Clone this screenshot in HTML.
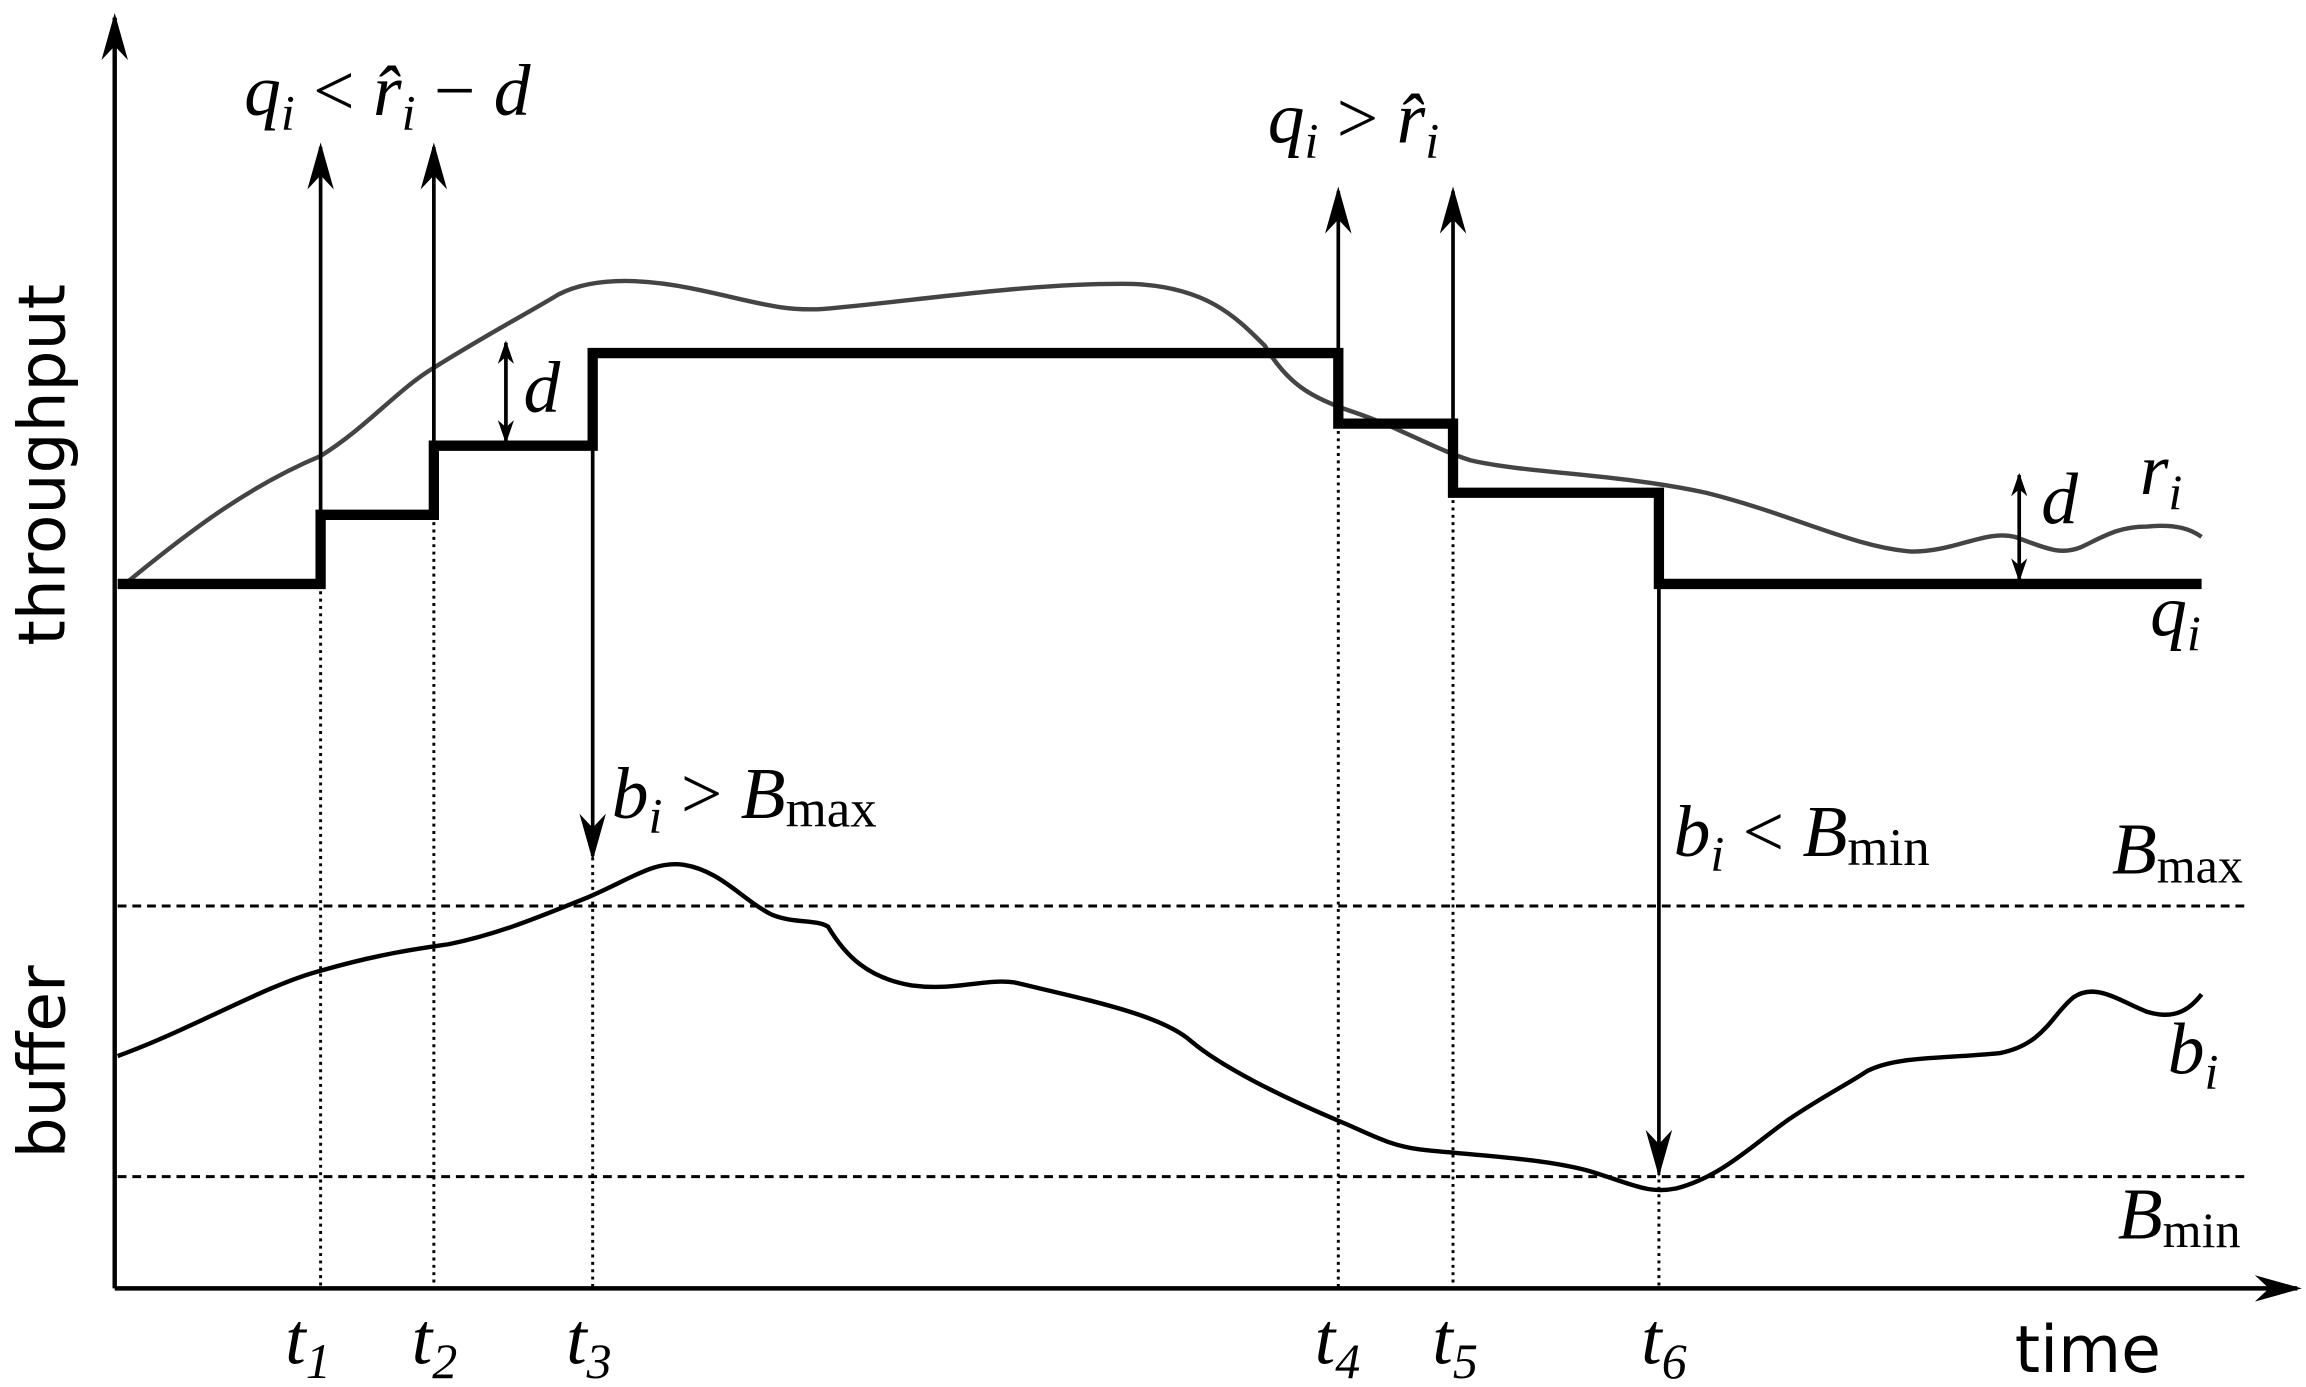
<!DOCTYPE html>
<html><head><style>html,body{margin:0;padding:0;background:#fff}svg{display:block}
.m{font-family:"Liberation Serif",serif;font-style:italic;font-size:50px}
.r{font-family:"Liberation Serif",serif;font-style:normal}
.s{font-family:"DejaVu Sans","Liberation Sans",sans-serif;font-size:44px}
</style></head><body>
<svg width="2306" height="1387" viewBox="0 0 1568 943" xmlns="http://www.w3.org/2000/svg">
<defs>
<marker id="b" viewBox="0 0 10 10" refX="9" refY="5" markerWidth="32" markerHeight="18" markerUnits="userSpaceOnUse" orient="auto" preserveAspectRatio="none"><path d="M0,0 L10,5 L0,10 L3,5 z" fill="#000"/></marker>
<marker id="c" viewBox="0 0 10 10" refX="9" refY="5" markerWidth="16" markerHeight="11" markerUnits="userSpaceOnUse" orient="auto-start-reverse" preserveAspectRatio="none"><path d="M0,0 L10,5 L0,10 L3,5 z" fill="#000"/></marker>
</defs>
<line x1="78" y1="876" x2="78" y2="12" stroke="#000" stroke-width="3" marker-end="url(#b)"/>
<line x1="78" y1="876" x2="1562" y2="876" stroke="#000" stroke-width="3" marker-end="url(#b)"/>
<line x1="80" y1="616" x2="1530" y2="616" stroke="#000" stroke-width="2" stroke-dasharray="6,4"/>
<line x1="80" y1="800" x2="1530" y2="800" stroke="#000" stroke-width="2" stroke-dasharray="6,4"/>
<g stroke="#000" stroke-width="2" stroke-dasharray="2,3">
<line x1="218" y1="397" x2="218" y2="876"/>
<line x1="295" y1="350" x2="295" y2="876"/>
<line x1="403" y1="303" x2="403" y2="876"/>
<line x1="910" y1="288" x2="910" y2="876"/>
<line x1="988" y1="335" x2="988" y2="876"/>
<line x1="1128" y1="397" x2="1128" y2="876"/>
</g>
<path d="M85,397 C130,360 170,330 218,310 C250,290 270,265 295,250 C330,228 355,215 380,200 C400,190 430,188 470,196 C510,204 530,212 560,210 C620,205 700,192 770,193 C820,195 840,215 860,235 C875,260 890,270 920,280 C950,290 975,305 1000,313 C1040,322 1100,322 1160,335 C1220,350 1260,372 1300,375 C1330,375 1350,360 1370,365 C1390,372 1400,378 1415,372 C1430,365 1440,358 1460,358 C1480,356 1490,360 1497,365" fill="none" stroke="#444" stroke-width="3"/>
<path d="M80,397 H218 V350 H295 V303 H403 V240 H910 V288 H988 V335 H1128 V397 H1497" fill="none" stroke="#000" stroke-width="7"/>
<path d="M80,718 C130,700 180,670 218,660 C260,648 285,645 305,642 C340,635 370,622 400,610 C430,597 445,585 465,588 C490,592 505,612 525,622 C540,628 555,625 563,630 C575,650 590,665 620,670 C650,674 670,665 690,668 C740,680 790,690 810,708 C830,725 870,745 910,762 C930,770 945,780 970,782 C1010,786 1050,788 1080,796 C1110,805 1120,812 1140,808 C1170,800 1190,780 1215,762 C1240,745 1255,738 1270,728 C1290,718 1320,720 1360,716 C1390,710 1395,690 1410,678 C1425,668 1440,680 1460,688 C1480,694 1490,685 1497,676" fill="none" stroke="#000" stroke-width="3"/>
<g stroke="#000" stroke-width="2.5">
<line x1="218" y1="350" x2="218" y2="100" marker-end="url(#b)"/>
<line x1="295" y1="303" x2="295" y2="100" marker-end="url(#b)"/>
<line x1="910" y1="240" x2="910" y2="130" marker-end="url(#b)"/>
<line x1="988" y1="288" x2="988" y2="130" marker-end="url(#b)"/>
<line x1="403" y1="303" x2="403" y2="582" marker-end="url(#b)"/>
<line x1="1128" y1="397" x2="1128" y2="797" marker-end="url(#b)"/>
<line x1="344" y1="300" x2="344" y2="233" marker-start="url(#c)" marker-end="url(#c)"/>
<line x1="1373" y1="394" x2="1373" y2="323" marker-start="url(#c)" marker-end="url(#c)"/>
</g>
<text class="m" x="166" y="78">q<tspan font-size="34" dy="10">i</tspan><tspan class="r" dy="-10"> &lt;  </tspan>r̂<tspan font-size="34" dy="10">i</tspan><tspan class="r" dy="-10">  −  </tspan>d</text>
<text class="m" x="862" y="97">q<tspan font-size="34" dy="10">i</tspan><tspan class="r" dy="-10">  &gt;  </tspan>r̂<tspan font-size="34" dy="10">i</tspan></text>
<text class="m" x="416" y="556">b<tspan font-size="34" dy="10">i</tspan><tspan class="r" dy="-10">  &gt;  </tspan>B<tspan class="r" font-size="36" dy="6">max</tspan></text>
<text class="m" x="1138" y="582">b<tspan font-size="34" dy="10">i</tspan><tspan class="r" dy="-10">  &lt;  </tspan>B<tspan class="r" font-size="36" dy="6">min</tspan></text>
<text class="m" x="1436" y="594">B<tspan class="r" font-size="34" dy="6">max</tspan></text>
<text class="m" x="1440" y="842">B<tspan class="r" font-size="34" dy="6">min</tspan></text>
<text class="m" x="356" y="280">d</text>
<text class="m" x="1388" y="356">d</text>
<text class="m" x="1455" y="336">r<tspan font-size="34" dy="10">i</tspan></text>
<text class="m" x="1462" y="432">q<tspan font-size="34" dy="10">i</tspan></text>
<text class="m" x="1474" y="730">b<tspan font-size="34" dy="10">i</tspan></text>
<text class="m" x="194" y="927">t<tspan font-size="34" dy="10">1</tspan></text>
<text class="m" x="280" y="927">t<tspan font-size="34" dy="10">2</tspan></text>
<text class="m" x="385" y="927">t<tspan font-size="34" dy="10">3</tspan></text>
<text class="m" x="894" y="927">t<tspan font-size="34" dy="10">4</tspan></text>
<text class="m" x="974" y="927">t<tspan font-size="34" dy="10">5</tspan></text>
<text class="m" x="1116" y="927">t<tspan font-size="34" dy="10">6</tspan></text>
<text class="s" x="1370" y="933">time</text>
<text class="s" transform="translate(44,316) rotate(-90)" text-anchor="middle">throughput</text>
<text class="s" transform="translate(44,722) rotate(-90)" text-anchor="middle">buffer</text>
</svg>
</body></html>
